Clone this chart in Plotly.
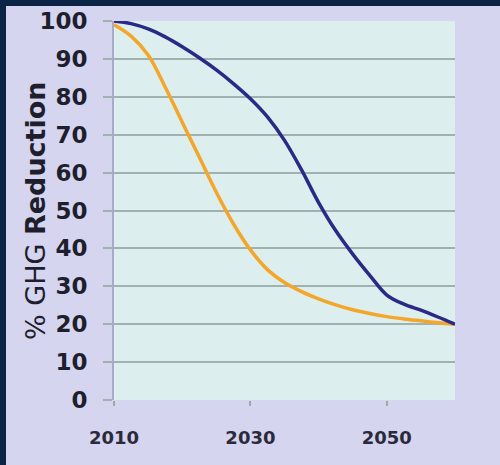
import plotly.graph_objects as go

years = [2010, 2012.5, 2015, 2017.5, 2020, 2022.5, 2025, 2027.5, 2030, 2032.5, 2035,
         2037.5, 2040, 2042.5, 2045, 2047.5, 2050, 2052.5, 2055, 2057.5, 2060]
navy_series = [100, 99.3, 97.9, 95.8, 93.2, 90.3, 87.1, 83.5, 79.5, 74.7, 68.5,
               60.7, 52.1, 44.7, 38.5, 32.9, 27.7, 25.3, 23.7, 21.9, 20]
orange_series = [99, 96.0, 91, 82.6, 73.3, 64.1, 54.8, 46.5, 39.6, 34.4, 31.0,
                 28.6, 26.7, 25.1, 23.8, 22.8, 22.0, 21.4, 20.9, 20.4, 20]
x_ticks = [2010, 2030, 2050]
y_ticks = list(range(0, 101, 10))

W, H = 500, 465
L, R, T, B = 114, 45, 21, 65
PW, PH = W - L - R, H - T - B

def px(x):
    return (x - L) / PW

def py(y):
    return (H - B - y) / PH

fig = go.Figure()
fig.add_trace(go.Scatter(x=years, y=orange_series, mode="lines",
                         line=dict(color="#f3a62a", width=3.5, shape="spline", smoothing=1.0),
                         cliponaxis=False, showlegend=False))
fig.add_trace(go.Scatter(x=years, y=navy_series, mode="lines",
                         line=dict(color="#2a2a86", width=3.5, shape="spline", smoothing=1.0),
                         cliponaxis=False, showlegend=False))

shapes = [
    dict(type="rect", xref="paper", yref="paper", x0=px(0), x1=px(W), y0=py(6), y1=py(0),
         fillcolor="#0b2446", line=dict(width=0), layer="above"),
    dict(type="rect", xref="paper", yref="paper", x0=px(0), x1=px(6), y0=py(H), y1=py(0),
         fillcolor="#0b2446", line=dict(width=0), layer="above"),
]

fig.update_layout(
    template="none",
    width=W, height=H,
    margin=dict(l=L, r=R, t=T, b=B, pad=0),
    paper_bgcolor="#d5d5f0",
    plot_bgcolor="#dcefee",
    shapes=shapes,
    xaxis=dict(range=[2010, 2060], tickvals=x_ticks, ticktext=[str(v) for v in x_ticks],
               showgrid=False, zeroline=False, showline=False,
               ticks="outside", ticklen=5, tickwidth=1.5, tickcolor="#9aa8a8",
               tickfont=dict(family="DejaVu Sans", size=18, color="#2a2a3a", weight="bold"),
               ticklabelstandoff=16, automargin=False, fixedrange=True),
    yaxis=dict(range=[0, 100], tickvals=y_ticks, ticktext=[str(v) for v in y_ticks],
               showgrid=True, gridcolor="#a0b2b0", gridwidth=2, zeroline=False,
               showline=True, linecolor="#a8aac6", linewidth=2,
               ticks="outside", ticklen=9, tickwidth=2, tickcolor="#a0b2b0",
               tickfont=dict(family="DejaVu Sans", size=23, color="#1e1e2c", weight="bold"),
               ticklabelstandoff=11, automargin=False, fixedrange=True),
    annotations=[dict(xref="paper", yref="paper", x=px(35), y=py(211),
                      text="% GHG <b>Reduction</b>", textangle=-90, showarrow=False,
                      xanchor="center", yanchor="middle",
                      font=dict(family="DejaVu Sans", size=27, color="#1e1e2c"))],
)

fig.write_html("out.html")
